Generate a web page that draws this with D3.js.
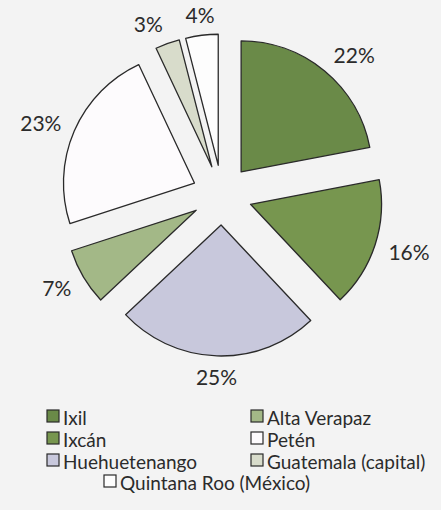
<!DOCTYPE html>
<html>
<head>
<meta charset="utf-8">
<script src="https://cdn.jsdelivr.net/npm/d3@7"></script>
<style>
  body { margin: 0; background: #f3f3f3; }
  svg { display: block; }
  text { font-family: Lato, "Open Sans", sans-serif; fill: #2b2b2b; }
</style>
</head>
<body>
<div id="chart"></div>
<script>
// data
let regions = ["Ixil", "Ixcán", "Huehuetenango", "Alta Verapaz", "Petén", "Guatemala (capital)", "Quintana Roo (México)"];
let shares = [22, 16, 25, 7, 23, 3, 4];
let colours = ["#6a8a48", "#77964f", "#c8c8dc", "#a3b887", "#fdfbfd", "#d8dccb", "#fdfdfd"];

let width = 441, height = 510;
let cx = 222, cy = 195;
let radius = 131, explode = 30;

let svg = d3.select("#chart")
  .append("svg")
  .attr("width", width)
  .attr("height", height);

let pie = d3.pie().sort(null).value(d => d.value);
let arcs = pie(regions.map((r, i) => ({ name: r, value: shares[i], colour: colours[i] })));

let arc = d3.arc().innerRadius(0).outerRadius(radius);

let g = svg.append("g")
  .attr("transform", "translate(" + cx + "," + cy + ")");

function mid(d) { return (d.startAngle + d.endAngle) / 2; }

// exploded slices
g.selectAll("path.slice")
  .data(arcs)
  .enter().append("path")
    .attr("class", "slice")
    .attr("d", arc)
    .attr("transform", d => {
      let a = mid(d);
      return "translate(" + (Math.sin(a) * explode) + "," + (-Math.cos(a) * explode) + ")";
    })
    .style("fill", d => d.data.colour)
    .style("stroke", "#2a2a2a")
    .style("stroke-width", 1.3)
    .style("stroke-linejoin", "round");

// percent labels just outside each slice
g.selectAll("text.pct")
  .data(arcs)
  .enter().append("text")
    .attr("class", "pct")
    .attr("x", d => Math.sin(mid(d)) * (radius + explode + 14))
    .attr("y", d => -Math.cos(mid(d)) * (radius + explode + 14) - Math.cos(mid(d)) * 7)
    .attr("text-anchor", d => {
      let s = Math.sin(mid(d));
      if (s > 0.15) return "start";
      else if (s < -0.15) return "end";
      return "middle";
    })
    .attr("dominant-baseline", "central")
    .style("font-size", "21px")
    .text(d => d.data.value + "%");

// legend: two columns of three, last item centred below
let rowY = [416, 438, 460, 481];
let legend = svg.append("g");
let items = legend.selectAll("g")
  .data(arcs)
  .enter().append("g")
    .attr("transform", (d, i) => {
      let x, y;
      if (i < 3) { x = 47; y = rowY[i]; }
      else if (i < 6) { x = 251; y = rowY[i - 3]; }
      else { x = 104; y = rowY[3]; }
      return "translate(" + x + "," + y + ")";
    });

items.append("rect")
  .attr("x", 0)
  .attr("y", -6)
  .attr("width", 12)
  .attr("height", 12)
  .style("fill", d => d.data.colour)
  .style("stroke", "#2a2a2a")
  .style("stroke-width", 1.2);

items.append("text")
  .attr("x", 16)
  .attr("y", 1)
  .attr("dominant-baseline", "central")
  .style("font-size", "19px")
  .text(d => d.data.name);
</script>
</body>
</html>
